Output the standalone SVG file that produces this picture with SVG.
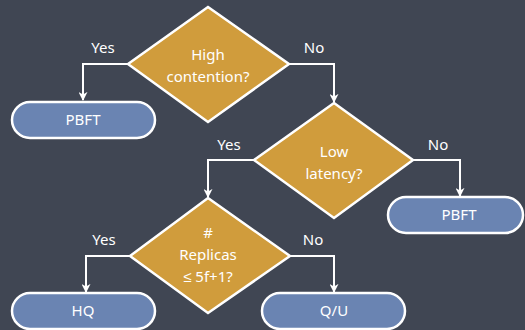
<svg xmlns="http://www.w3.org/2000/svg" width="525" height="330" viewBox="0 0 525 330">
<defs>
<style>
.bg{fill:#404653}
.dia{fill:#d09c3c;stroke:#ffffff;stroke-width:2.5}
.pill{fill:#6a84b2;stroke:#ffffff;stroke-width:2.5}
.t{font-family:"Noto Sans","Liberation Sans",sans-serif;font-size:15px;fill:#ffffff;text-anchor:middle}
.lbl{font-family:"Noto Sans","Liberation Sans",sans-serif;font-size:15px;fill:#ffffff;text-anchor:middle}
.c{fill:none;stroke:#ffffff;stroke-width:2}
</style>
<marker id="ah" viewBox="0 0 10 10" refX="9" refY="5" markerWidth="9" markerHeight="9" orient="auto" markerUnits="userSpaceOnUse">
<path d="M0,0 L10,5 L0,10 L3,5 Z" fill="#ffffff"/>
</marker>
</defs>
<rect class="bg" x="0" y="0" width="525" height="330"/>
<g id="connectors">
<path class="c" d="M128,64 H83 V100" marker-end="url(#ah)"/>
<path class="c" d="M289,64 H334 V102" marker-end="url(#ah)"/>
<path class="c" d="M413,160 H460 V196" marker-end="url(#ah)"/>
<path class="c" d="M254,160 H208 V197" marker-end="url(#ah)"/>
<path class="c" d="M130,256 H86 V292" marker-end="url(#ah)"/>
<path class="c" d="M290,256 H334 V292" marker-end="url(#ah)"/>
<text class="lbl" x="103" y="53">Yes</text>
<text class="lbl" x="314" y="53">No</text>
<text class="lbl" x="229" y="150">Yes</text>
<text class="lbl" x="438" y="150">No</text>
<text class="lbl" x="104" y="245">Yes</text>
<text class="lbl" x="313" y="245">No</text>
</g>
<g id="d1">
<polygon class="dia" points="208,7 289,64 208,122 128,64"/>
<text class="t" x="208" y="60">High</text>
<text class="t" x="208" y="82">contention?</text>
</g>
<g id="p1">
<rect class="pill" x="12" y="102" width="143" height="36" rx="18"/>
<text class="t" x="83" y="125">PBFT</text>
</g>
<g id="d2">
<polygon class="dia" points="334,103 413,160 334,218 254,160"/>
<text class="t" x="334" y="157">Low</text>
<text class="t" x="334" y="179">latency?</text>
</g>
<g id="p2">
<rect class="pill" x="388" y="197" width="135" height="36" rx="18"/>
<text class="t" x="459" y="220">PBFT</text>
</g>
<g id="d3">
<polygon class="dia" points="208,198 290,256 208,313 130,256"/>
<text class="t" x="208" y="238">#</text>
<text class="t" x="208" y="260">Replicas</text>
<text class="t" x="208" y="282">≤ 5f+1?</text>
</g>
<g id="p3">
<rect class="pill" x="12" y="293" width="143" height="36" rx="18"/>
<text class="t" x="83" y="316">HQ</text>
</g>
<g id="p4">
<rect class="pill" x="262" y="293" width="143" height="36" rx="18"/>
<text class="t" x="334" y="316">Q/U</text>
</g>
</svg>
